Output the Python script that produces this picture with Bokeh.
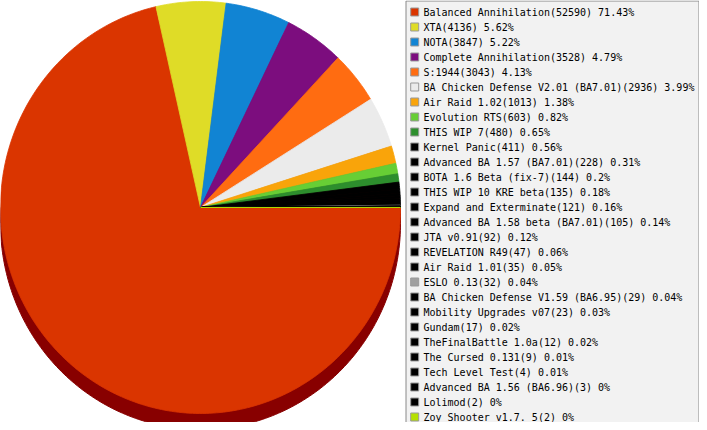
import numpy as np
from bokeh.plotting import figure
from bokeh.models import Range1d, ColumnDataSource
from bokeh.core.properties import value
from bokeh.embed import file_html
from bokeh.resources import INLINE

# ---------------- data ----------------
names = [
    "Balanced Annihilation", "XTA", "NOTA", "Complete Annihilation", "S:1944",
    "BA Chicken Defense V2.01 (BA7.01)", "Air Raid 1.02", "Evolution RTS", "THIS WIP 7",
    "Kernel Panic", "Advanced BA 1.57 (BA7.01)", "BOTA 1.6 Beta (fix-7)",
    "THIS WIP 10 KRE beta", "Expand and Exterminate", "Advanced BA 1.58 beta (BA7.01)",
    "JTA v0.91", "REVELATION R49", "Air Raid 1.01", "ESLO 0.13",
    "BA Chicken Defense V1.59 (BA6.95)", "Mobility Upgrades v07", "Gundam",
    "TheFinalBattle 1.0a", "The Cursed 0.131", "Tech Level Test",
    "Advanced BA 1.56 (BA6.96)", "Lolimod", "Zoy Shooter v1.7. 5",
]
counts = [52590, 4136, 3847, 3528, 3043, 2936, 1013, 603, 480, 411, 228, 144, 135,
          121, 105, 92, 47, 35, 32, 29, 23, 17, 12, 9, 4, 3, 2, 2]
percents = ["71.43%", "5.62%", "5.22%", "4.79%", "4.13%", "3.99%", "1.38%", "0.82%",
            "0.65%", "0.56%", "0.31%", "0.2%", "0.18%", "0.16%", "0.14%", "0.12%",
            "0.06%", "0.05%", "0.04%", "0.04%", "0.03%", "0.02%", "0.02%", "0.01%",
            "0.01%", "0%", "0%", "0%"]
colors = ["#DA3500", "#DFDC27", "#1184D3", "#7C0D7E", "#FF6C11", "#EBEBEB", "#F9A40A",
          "#67CE35", "#2D8E2D", "#000000", "#000000", "#000000", "#000000", "#000000",
          "#000000", "#000000", "#000000", "#000000", "#A0A0A0", "#000000", "#000000",
          "#000000", "#000000", "#000000", "#000000", "#000000", "#000000", "#B5E000"]
rim_color = "#880000"

# ---------------- figure (data units = reference pixels, y flipped) ----------------
FW, FH = 699, 422
p = figure(width=FW, height=FH, output_backend="svg", toolbar_location=None,
           x_range=Range1d(0, FW), y_range=Range1d(-FH, 0),
           x_axis_location=None, y_axis_location=None, min_border=0)
p.grid.visible = False
p.outline_line_color = None
p.background_fill_color = "white"
p.border_fill_color = "white"

cx, cy, rx, ry, depth = 200.0, 207.0, 200.0, 206.0, 16.0

# rim (side of 3D pie)
th = np.linspace(0, 2 * np.pi, 361)
p.patch(x=cx + rx * np.cos(th), y=-(cy + depth + ry * np.sin(th)),
        fill_color=rim_color, line_color=rim_color, line_width=1)
p.quad(left=cx - rx, right=cx + rx, top=-cy, bottom=-(cy + depth),
       fill_color=rim_color, line_color=None)

# top face slices, clockwise from east
total = float(sum(counts))
fr = np.array(counts) / total
ends = np.cumsum(fr) * 2 * np.pi
starts = ends - fr * 2 * np.pi
xs, ys = [], []
for a0, a1 in zip(starts, ends):
    n = max(3, int(np.degrees(a1 - a0)) + 3)
    t = np.linspace(a0, a1, n)
    xs.append(np.concatenate([[cx], cx + rx * np.cos(t)]))
    ys.append(np.concatenate([[-cy], -(cy + ry * np.sin(t))]))
p.patches(xs=xs, ys=ys, fill_color=colors, line_color=colors, line_width=0.8)

# ---------------- legend ----------------
p.quad(left=405.5, right=FW - 0.5, top=-0.5, bottom=-(FH + 6.5),
       fill_color="#F2F2F2", line_color="#888888", line_width=1)
rows = np.arange(len(names))
labels = [f"{n}({c}) {pc}" for n, c, pc in zip(names, counts, percents)]
src = ColumnDataSource(dict(
    sx=np.full(len(rows), 414.2), sy=-(11.5 + 15.0 * rows),
    tx=np.full(len(rows), 423.0), ty=-(12.0 + 15.0 * rows),
    color=colors, label=labels))
p.rect(x="sx", y="sy", width=8, height=8, source=src,
       fill_color="color", line_color="#999999", line_width=1)
p.text(x="tx", y="ty", text="label", source=src, text_baseline="middle",
       text_align="left", text_font=value("DejaVu Sans Mono"),
       text_font_size="10px", text_color="#000000")

open("out.html", "w").write(file_html(p, INLINE))
